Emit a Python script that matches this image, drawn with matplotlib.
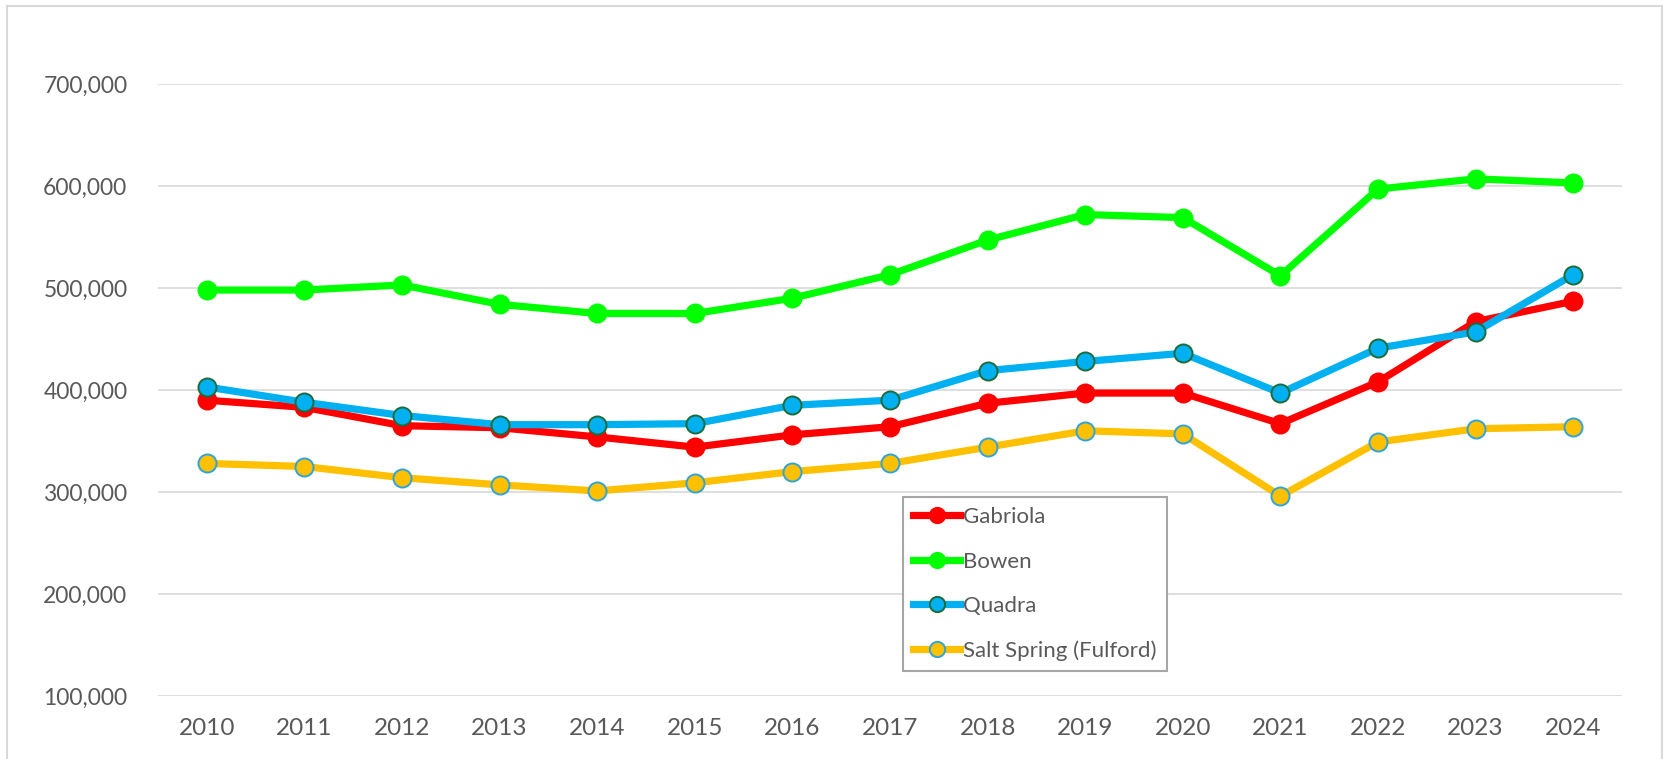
import matplotlib
matplotlib.use('Agg')
import matplotlib.pyplot as plt
from matplotlib.patches import Rectangle
from matplotlib.ticker import FuncFormatter

plt.rcParams['font.family'] = ['Lato', 'DejaVu Sans']

# Dados
anos = ['2010', '2011', '2012', '2013', '2014', '2015', '2016', '2017',
        '2018', '2019', '2020', '2021', '2022', '2023', '2024']

gabriola = [390, 383, 365, 363, 354, 344, 356, 364,
            387, 397, 397, 367, 408, 467, 487]
bowen = [498, 498, 503, 484, 475, 475, 490, 513,
         547, 572, 569, 512, 597, 607, 603]
quadra = [403, 388, 375, 366, 366, 367, 385, 390,
          419, 428, 436, 397, 441, 457, 513]
salt_spring = [328, 325, 314, 307, 301, 309, 320, 328,
               344, 360, 357, 296, 349, 362, 364]

series = [
    ('Gabriola', gabriola, '#ff0000', '#ff0000'),
    ('Bowen', bowen, '#00ff00', '#00ff00'),
    ('Quadra', quadra, '#00b0f0', '#1e6b3c'),
    ('Salt Spring (Fulford)', salt_spring, '#ffc000', '#2ea3dc'),
]

cor_texto = '#595959'
cor_grade = '#d9d9d9'

fig = plt.figure(figsize=(16.68, 7.59), dpi=100)
ax = fig.add_axes([158 / 1668, 1 - 696 / 759, 1464 / 1668, 612 / 759])

x = list(range(len(anos)))
for nome, valores, cor, borda in series:
    ax.plot(x, [v * 1000 for v in valores], color=cor, linewidth=5.2,
            marker='o', markersize=13, markerfacecolor=cor,
            markeredgecolor=borda, markeredgewidth=1.4,
            label=nome, solid_joinstyle='round')

ax.set_xlim(-0.5, len(anos) - 0.5)
ax.set_ylim(100000, 700000)
ax.set_yticks(range(100000, 700001, 100000))
ax.yaxis.set_major_formatter(FuncFormatter(lambda v, p: f'{int(v):,}'))
ax.set_xticks(x)
ax.set_xticklabels(anos)

ax.grid(axis='y', color=cor_grade, linewidth=1.2)
ax.set_axisbelow(True)
for s in ax.spines.values():
    s.set_visible(False)
ax.tick_params(axis='both', length=0, labelcolor=cor_texto)
ax.tick_params(axis='y', pad=22, labelsize=16.5)
ax.tick_params(axis='x', pad=16, labelsize=17.5)

leg = ax.legend(loc='upper left', bbox_to_anchor=(0.509, 0.325),
                fontsize=16, frameon=True, fancybox=False, framealpha=1,
                edgecolor='#a6a6a6', handlelength=2.1, handletextpad=0.15,
                labelspacing=1.1, borderpad=0.45, borderaxespad=0)
leg.get_frame().set_linewidth(1.5)
for t in leg.get_texts():
    t.set_color(cor_texto)
for h in leg.legend_handles:
    h.set_markersize(11)

# Moldura externa
fig.patches.append(Rectangle((7 / 1668, -0.05), 1655 / 1668, 1 - 6 / 759 + 0.05,
                             transform=fig.transFigure, fill=False,
                             edgecolor=cor_grade, linewidth=1.5))

fig.savefig('out.png', dpi=100)
